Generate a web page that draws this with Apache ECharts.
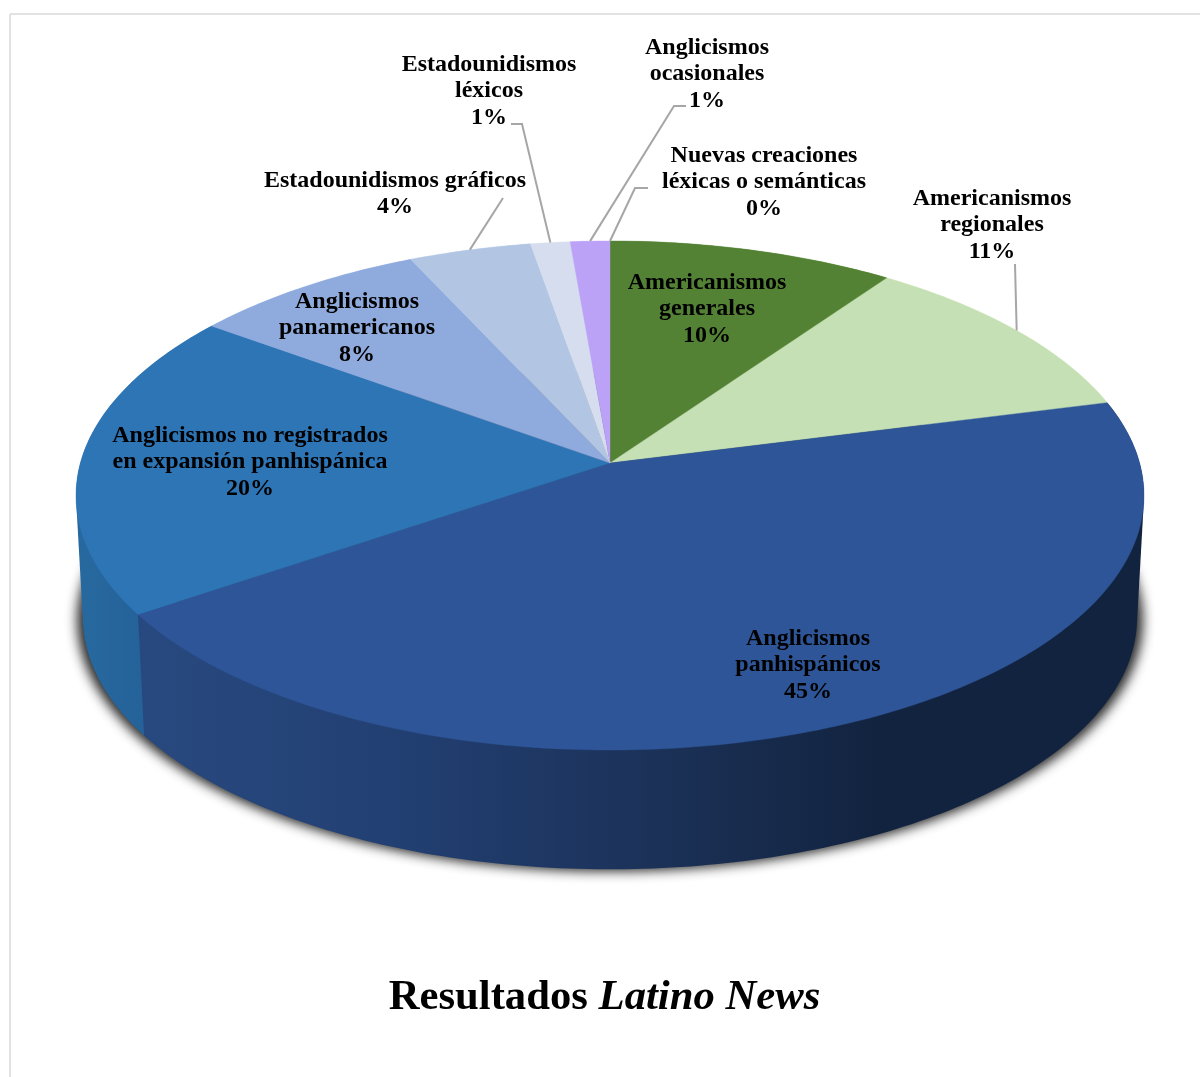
<!DOCTYPE html>
<html><head><meta charset="utf-8">
<style>html,body{margin:0;padding:0;background:#fff}#c{width:1200px;height:1077px}</style>
<script src="https://cdn.jsdelivr.net/npm/echarts@6/dist/echarts.min.js"></script>
</head><body><div id="c"></div>
<script>
// ---- data ----
const categories = ['Americanismos\ngenerales','Americanismos\nregionales','Anglicismos\npanhispánicos',
  'Anglicismos no registrados\nen expansión panhispánica','Anglicismos\npanamericanos','Estadounidismos gráficos',
  'Estadounidismos\nléxicos','Anglicismos\nocasionales','Nuevas creaciones\nléxicas o semánticas'];
const values = [9.8,11.2,44.51,19.5,8.09,4.2,1.35,1.35,0];
const topColors = ['#548235','#C5E0B4','#2E5597','#2E75B6','#8FAADC','#B2C6E3','#D6DDEE','#BBA2F7','#A9D18E'];

// ---- layout ----
const labelCenters = [[707,309],[992,225],[808,665],[250,462],[357,328],[395,194],[489,91],[707,74],[764,182]];
const leaderStarts = [null,[[1015,264]],null,null,null,[[503,198]],[[511,124],[522,124]],[[686,106],[674,106]],[[648,188],[635,188]]];
const P = {cx:610, cy:463, A:529.6, B:250.4, k:0.1277, bs:0.987, by:586};
const total = values.reduce((a,b)=>a+b,0);
const cum = values.reduce((acc,v)=>{acc.push(acc[acc.length-1]+v);return acc;},[0]);
const FONT = '"Liberation Serif","Times New Roman",serif';

function rim(pct){ // share of the pie (clockwise from 12 o'clock) -> offset from pie centre on the top face
  const t = pct/total*2*Math.PI, u=Math.sin(t), v=Math.cos(t), w=1+P.k*v;
  return [P.A*u/w, -P.B*v/w];
}
const topPt = p=>{const r=rim(p);return [P.cx+r[0],P.cy+r[1]];};
const botPt = p=>{const r=rim(p);return [P.cx+P.bs*r[0],P.by+P.bs*r[1]];};
function arc(from,to,fn){const n=Math.max(2,Math.ceil((to-from)*4));const o=[];for(let i=0;i<=n;i++)o.push(fn(from+(to-from)*i/n));return o;}
function hull(points){ // convex outline of a slice's top and bottom arcs = its side wall silhouette
  const s=points.slice().sort((a,b)=>a[0]-b[0]||a[1]-b[1]);
  const cross=(o,a,b)=>(a[0]-o[0])*(b[1]-o[1])-(a[1]-o[1])*(b[0]-o[0]);
  const half=list=>{const h=[];for(const p of list){while(h.length>1&&cross(h[h.length-2],h[h.length-1],p)<=0)h.pop();h.push(p);}h.pop();return h;};
  return half(s).concat(half(s.slice().reverse()));
}

const grad = (x0,x1,stops)=>new echarts.graphic.LinearGradient(x0,0,x1,0,stops,true);
const wallFills = {
  2: grad(150,880,[{offset:0,color:'#28497F'},{offset:.35,color:'#223F72'},{offset:.7,color:'#1B3157'},{offset:1,color:'#12233F'}]),
  3: grad(80,150,[{offset:0,color:'#27699F'},{offset:1,color:'#246199'}])
};
const baseData = values.map((v,i)=>[v,cum[i],cum[i+1],i]);
const SHADOW_SHIFT = 3000; // the casting shape sits off-canvas, so only its blurred shadow is seen

const option = {
  animation:false,
  backgroundColor:'#fff',
  title:{
    text:'{a|Resultados }{b|Latino News}',
    left:599.5, top:971, textAlign:'center',
    textStyle:{rich:{
      a:{fontFamily:FONT,fontWeight:'bold',fontSize:42.7,color:'#000'},
      b:{fontFamily:FONT,fontWeight:'bold',fontStyle:'italic',fontSize:42.7,color:'#000'}
    }}
  },
  graphic:[
    {type:'line',silent:true,z:0,shape:{x1:10,y1:14,x2:1200,y2:14},style:{stroke:'#E2E2E2',lineWidth:2}},
    {type:'line',silent:true,z:0,shape:{x1:10,y1:14,x2:10,y2:1077},style:{stroke:'#E2E2E2',lineWidth:2}}
  ],
  series:[
    { // drop shadow under the pie
      type:'custom',coordinateSystem:'none',z:1,silent:true,data:[[total]],
      renderItem(){
        const pts=arc(0,total,p=>{const r=rim(p);return [P.cx-SHADOW_SHIFT+P.bs*1.011*r[0],P.by+2+P.bs*r[1]];});
        return {type:'polygon',shape:{points:pts},style:{fill:'#000',shadowBlur:12,shadowColor:'rgba(30,30,30,0.95)',shadowOffsetX:SHADOW_SHIFT}};
      }
    },
    { // side wall, painted back to front so each slice keeps its own edge
      type:'custom',coordinateSystem:'none',z:2,silent:true,data:baseData.slice().reverse(),
      renderItem(params,api){
        const a=api.value(1),b=api.value(2),i=api.value(3);
        if(b<=a) return null;
        const fill=wallFills[i]||echarts.color.lift(topColors[i],-0.2);
        return {type:'polygon',shape:{points:hull(arc(a,b,topPt).concat(arc(a,b,botPt)))},style:{fill}};
      }
    },
    { // top face
      type:'custom',coordinateSystem:'none',z:3,silent:true,data:baseData,
      renderItem(params,api){
        const a=api.value(1),b=api.value(2),i=params.dataIndex;
        if(b<=a) return null;
        const pts=[[P.cx,P.cy]].concat(arc(a,b,topPt));
        return {type:'polygon',shape:{points:pts},style:{fill:topColors[i],stroke:topColors[i],lineWidth:0.4}};
      }
    },
    { // data labels and leader lines
      type:'custom',coordinateSystem:'none',z:4,silent:true,data:baseData,
      renderItem(params,api){
        const i=params.dataIndex,a=api.value(1),b=api.value(2),c=labelCenters[i];
        const children=[{type:'text',style:{
          text:categories[i]+'\n'+Math.round(api.value(0)/total*100)+'%',
          x:c[0],y:c[1],align:'center',verticalAlign:'middle',
          fontFamily:FONT,fontWeight:'bold',fontSize:24,lineHeight:26.4,fill:'#000'}}];
        if(leaderStarts[i]){
          children.push({type:'polyline',shape:{points:leaderStarts[i].concat([topPt((a+b)/2)])},
            style:{stroke:'#A6A6A6',lineWidth:2,fill:'none'}});
        }
        return {type:'group',children};
      }
    }
  ]
};
echarts.init(document.getElementById('c'),null,{renderer:'canvas'}).setOption(option);
</script></body></html>
